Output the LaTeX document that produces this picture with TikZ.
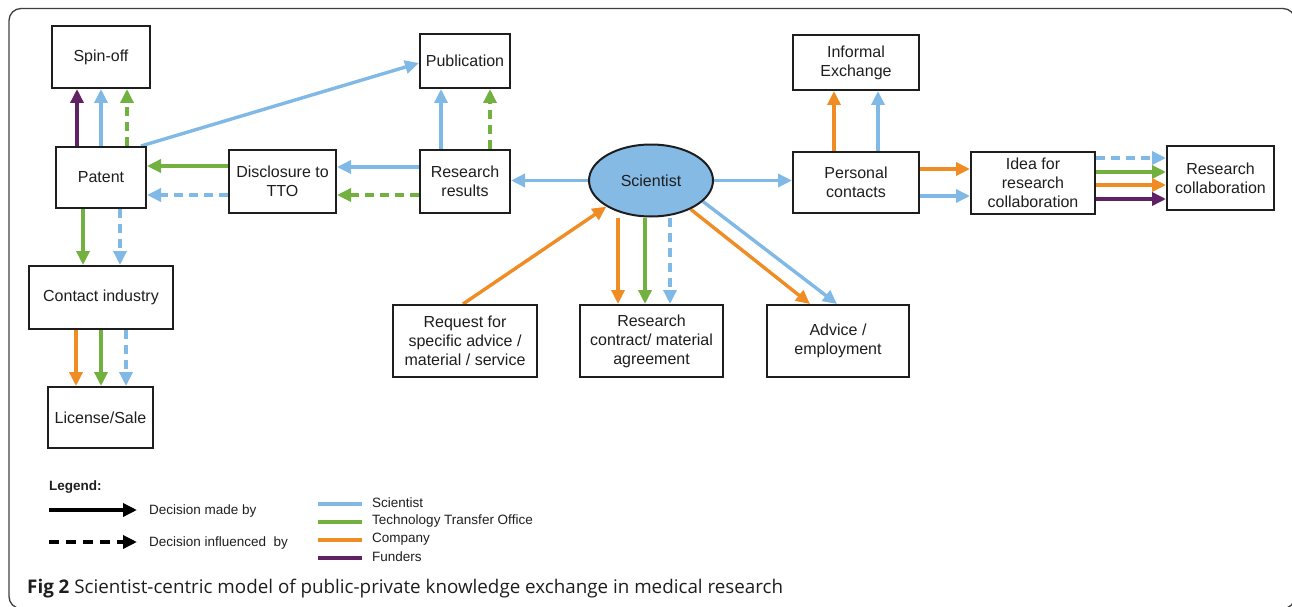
\documentclass[tikz,border=0pt]{standalone}
\usepackage{fontspec}
\setmainfont{Liberation Sans}
\newfontfamily\capfont{Open Sans}
\usetikzlibrary{arrows.meta,backgrounds,shapes.geometric}

\definecolor{sciblue}{RGB}{128,184,230}
\definecolor{ttogreen}{RGB}{114,176,64}
\definecolor{comporange}{RGB}{240,140,36}
\definecolor{fundpurple}{RGB}{96,34,100}
\definecolor{ellfill}{RGB}{133,186,228}
\definecolor{ink}{RGB}{30,30,30}

\tikzset{
  box/.style={draw=ink, line width=2pt, fill=white, align=center, inner sep=0pt,
    font=\fontsize{16}{19}\selectfont, text=ink},
  flow/.style={line width=3.4pt, -{Triangle[length=14pt,width=13pt]}},
  infl/.style={flow, dash pattern=on 9pt off 6pt},
  legtext/.style={anchor=west, inner sep=0pt, font=\fontsize{13.5}{16}\selectfont, text=ink},
  swatch/.style={line width=3.2pt},
}

\begin{document}
\begin{tikzpicture}[x=1pt,y=-1pt]
\useasboundingbox (0,0) rectangle (1292,607);

% process boxes
\node[box, minimum width=98pt,  minimum height=62pt] (spin)     at (101,57)     {Spin-off};
\node[box, minimum width=90pt,  minimum height=61pt] (patent)   at (101,177.5)  {Patent};
\node[box, minimum width=107pt, minimum height=63pt] (disc)     at (282.5,181.5){Disclosure to\\TTO};
\node[box, minimum width=90pt,  minimum height=63pt] (resres)   at (465,181.5)  {Research\\results};
\node[box, minimum width=90pt,  minimum height=54pt] (pub)      at (465,61)     {Publication};
\node[box, minimum width=126pt, minimum height=55pt] (informal) at (856,62.5)   {Informal\\Exchange};
\node[box, minimum width=126pt, minimum height=61pt] (personal) at (856,182.5)  {Personal\\contacts};
\node[box, minimum width=124pt, minimum height=62pt] (idea)     at (1033,183)   {Idea for\\research\\collaboration};
\node[box, minimum width=107pt, minimum height=64pt] (collab)   at (1220.5,178) {Research\\collaboration};
\node[box, minimum width=144pt, minimum height=63pt] (contact)  at (101,297.5)  {Contact industry};
\node[box, minimum width=105pt, minimum height=61pt] (license)  at (100.5,417.5){License/Sale};
\node[box, minimum width=144pt, minimum height=72pt] (request)  at (465,341)    {Request for\\specific advice /\\material / service};
\node[box, minimum width=143pt, minimum height=72pt] (contract) at (651.5,341)  {Research\\contract/ material\\agreement};
\node[box, minimum width=142pt, minimum height=72pt] (advice)   at (838,341)    {Advice /\\employment};
\node[box, ellipse, fill=ellfill, minimum width=124pt, minimum height=72pt] (sci) at (651,180.5) {Scientist};

\begin{scope}[on background layer]
  % outer frame
  \begin{scope}
    \clip (0,0) rectangle (1292,607);
    \draw[line width=1.3pt, draw=black!75, rounded corners=12pt] (9,8.5) rectangle (1295,608.5);
  \end{scope}

  % patent to spin-off and publication
  \draw[flow, fundpurple] (patent.north -| 77,0)  -- (spin.south -| 77,0);
  \draw[flow, sciblue]    (patent.north -| 101,0) -- (spin.south -| 101,0);
  \draw[infl, ttogreen]   (patent.north -| 127,0) -- (spin.south -| 127,0);
  \draw[flow, sciblue]    (patent.north -| 141,0) -- (pub.west |- 0,63);

  % disclosure chain
  \draw[flow, ttogreen]   (disc.west |- 0,166)   -- (patent.east |- 0,166);
  \draw[infl, sciblue]    (disc.west |- 0,195)   -- (patent.east |- 0,195);
  \draw[flow, sciblue]    (resres.west |- 0,167) -- (disc.east |- 0,167);
  \draw[infl, ttogreen]   (resres.west |- 0,195) -- (disc.east |- 0,195);

  % research results to publication
  \draw[flow, sciblue]    (resres.north -| 441,0) -- (pub.south -| 441,0);
  \draw[infl, ttogreen]   (resres.north -| 490,0) -- (pub.south -| 490,0);

  % scientist outward
  \draw[flow, sciblue]    (sci.west) -- (resres.east |- sci.west);
  \draw[flow, sciblue]    (sci.east) -- (personal.west |- sci.east);

  % personal contacts
  \draw[flow, comporange] (personal.north -| 834,0) -- (informal.south -| 834,0);
  \draw[flow, sciblue]    (personal.north -| 878,0) -- (informal.south -| 878,0);
  \draw[flow, comporange] (personal.east |- 0,169) -- (idea.west |- 0,169);
  \draw[flow, sciblue]    (personal.east |- 0,196) -- (idea.west |- 0,196);

  % idea to research collaboration
  \draw[infl, sciblue]    (idea.east |- 0,158) -- (collab.west |- 0,158);
  \draw[flow, ttogreen]   (idea.east |- 0,172) -- (collab.west |- 0,172);
  \draw[flow, comporange] (idea.east |- 0,185) -- (collab.west |- 0,185);
  \draw[flow, fundpurple] (idea.east |- 0,199) -- (collab.west |- 0,199);

  % patent to industry to licensing
  \draw[flow, ttogreen]   (patent.south -| 83,0)   -- (contact.north -| 83,0);
  \draw[infl, sciblue]    (patent.south -| 120,0)  -- (contact.north -| 120,0);
  \draw[flow, comporange] (contact.south -| 76,0)  -- (license.north -| 76,0);
  \draw[flow, ttogreen]   (contact.south -| 101,0) -- (license.north -| 101,0);
  \draw[infl, sciblue]    (contact.south -| 126,0) -- (license.north -| 126,0);

  % requests and agreements
  \draw[flow, comporange] (request.north -| 463,0) -- (sci.south west);
  \draw[flow, comporange] (sci.south -| 618,0) -- (contract.north -| 618,0);
  \draw[flow, ttogreen]   (sci.south -| 645,0) -- (contract.north -| 645,0);
  \draw[infl, sciblue]    (sci.south -| 670,0) -- (contract.north -| 670,0);
  \draw[flow, comporange] (sci.-36) -- (advice.north -| 810,0);
  \draw[flow, sciblue]    (sci.-22) -- (advice.north -| 837,0);
\end{scope}

% legend
\node[legtext, font=\fontsize{13.5}{16}\selectfont\bfseries] (legtitle) at (49,487) {Legend:};
\coordinate (lm0) at (49,510);  \coordinate (lm1) at (137,510);
\coordinate (li0) at (49,542);  \coordinate (li1) at (137,542);
\draw[flow, black] (lm0) -- (lm1);
\draw[infl, black, dash pattern=on 10pt off 7pt] (li0) -- (li1);
\node[legtext] (lmade) at (149,511) {Decision made by};
\node[legtext] (linfl) at (149,543) {Decision influenced\ \ by};

\draw[swatch, sciblue]    (318,504) -- (362,504);
\draw[swatch, ttogreen]   (318,522) -- (362,522);
\draw[swatch, comporange] (318,540) -- (362,540);
\draw[swatch, fundpurple] (318,558) -- (362,558);
\node[legtext] (lsci)  at (372,503) {Scientist};
\node[legtext] (ltto)  at (372,521) {Technology Transfer Office};
\node[legtext] (lcomp) at (372,539) {Company};
\node[legtext] (lfund) at (372,557) {Funders};

% caption
\node[anchor=west, inner sep=0pt, text=ink, font=\capfont\fontsize{18.8}{22}\selectfont] (caption) at (27,589)
  {\textbf{Fig 2} Scientist-centric model of public-private knowledge exchange in medical research};
\end{tikzpicture}
\end{document}
